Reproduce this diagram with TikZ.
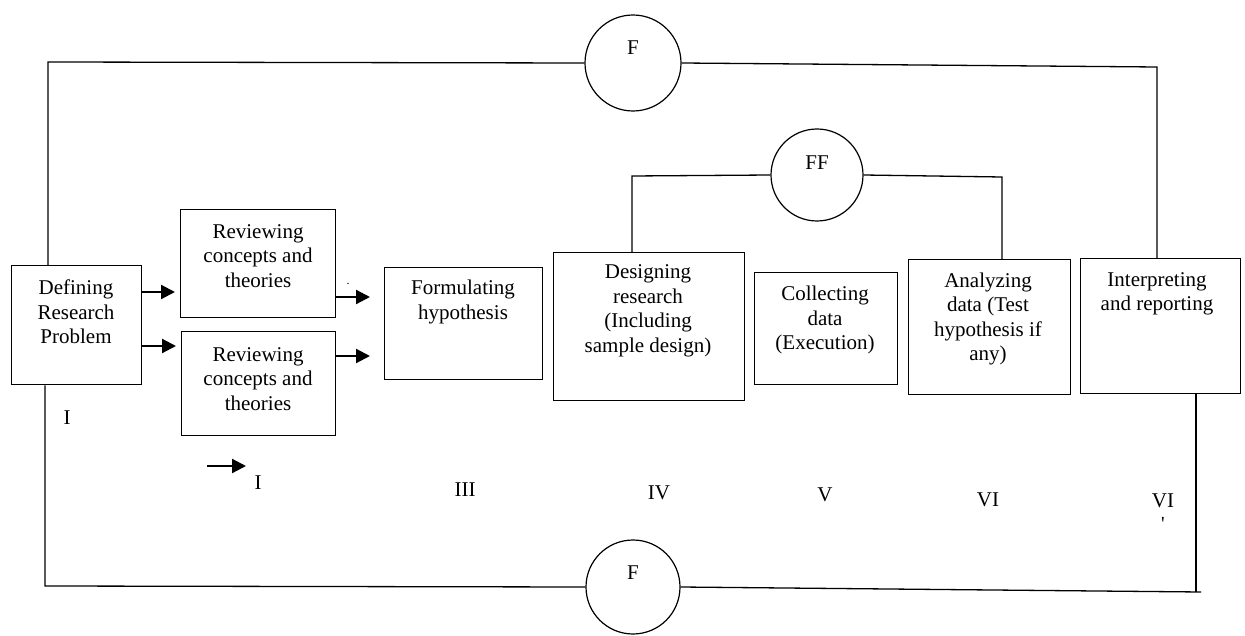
\documentclass[tikz,border=0pt]{standalone}
\usepackage{fontspec}
\setmainfont{Liberation Serif}
\usetikzlibrary{arrows.meta}
\tikzset{
  box/.style={draw, line width=1.3pt, inner sep=0pt, anchor=north west},
  txt/.style={align=center, font=\fontsize{21}{24.5}\selectfont, inner sep=0pt},
  num/.style={font=\fontsize{21}{24}\selectfont, inner sep=0pt},
  ring/.style={draw, circle, line width=1.2pt, inner sep=0pt},
  wire/.style={line width=1.3pt},
  arr/.style={line width=2.2pt, -{Triangle[length=14pt,width=14pt]}}
}
\begin{document}
\begin{tikzpicture}[x=1pt,y=-1pt]
\useasboundingbox (0,0) rectangle (1245,636);
% boxes
\node[box, minimum width=130pt, minimum height=119pt] (def) at (11,265) {};
\node[box, minimum width=155pt, minimum height=108pt] (rev1) at (180,209) {};
\node[box, minimum width=154pt, minimum height=104pt] (rev2) at (181,331) {};
\node[box, minimum width=158pt, minimum height=112pt] (form) at (384,267) {};
\node[box, minimum width=191pt, minimum height=148pt] (des) at (553,252) {};
\node[box, minimum width=143pt, minimum height=112pt] (col) at (754,272) {};
\node[box, minimum width=162pt, minimum height=135pt] (ana) at (908,259) {};
\node[box, minimum width=160pt, minimum height=135pt] (int) at (1080,258) {};
% box texts
\node[txt] (defT) at (76,312) {Defining\\Research\\Problem};
\node[txt] (rev1T) at (258,256) {Reviewing\\concepts and\\theories};
\node[txt] (rev2T) at (258,379) {Reviewing\\concepts and\\theories};
\node[txt] (formT) at (463,302) {Formulating\\hypothesis};
\node[txt] (desT) at (648,311) {Designing\\research\\(Including\\sample design)};
\node[txt] (colT) at (825,320) {Collecting\\data\\(Execution)};
\node[txt] (anaT) at (988,319) {Analyzing\\data (Test\\hypothesis if\\any)};
\node[txt] (intT) at (1157,294) {Interpreting\\and reporting};
% circles
\node[ring, minimum size=96pt] (Ft) at (633,63) {};
\node[num] (FtT) at (633,48) {F};
\node[ring, minimum size=92pt] (FF) at (817,175) {};
\node[num] (FFT) at (817,163) {FF};
\node[ring, minimum size=94pt] (Fb) at (633,587) {};
\node[num] (FbT) at (633,573) {F};
% loop coordinates
\coordinate (tl) at (48,62);
\coordinate (tr) at (1157,67);
\coordinate (bl) at (45,586);
\coordinate (br) at (1196,592);
\coordinate (bre) at (1201,592);
\coordinate (dl) at (632,176);
\coordinate (dr) at (1002,177);
% outer loop top
\draw[wire] (def.north -| tl) -- (tl) -- (Ft.west);
\draw[wire] (Ft.east) -- (tr) -- (int.north -| tr);
% outer loop bottom
\draw[wire] (def.south -| bl) -- (bl) -- (Fb.west);
\draw[wire] (Fb.east) -- (bre);
\draw[wire] (int.south -| br) -- (br);
% inner loop
\draw[wire] (des.north -| dl) -- (dl) -- (FF.west);
\draw[wire] (FF.east) -- (dr) -- (ana.north -| dr);
% arrows
\draw[arr, shorten >=5pt] (def.east |- 0,292) -- (rev1.west |- 0,292);
\draw[arr, shorten >=5pt] (def.east |- 0,346) -- (rev2.west |- 0,346);
\draw[arr, shorten >=14pt] (rev1.east |- 0,297) -- (form.west |- 0,297);
\draw[arr, shorten >=14pt] (rev2.east |- 0,356) -- (form.west |- 0,356);
\coordinate (sa) at (207,466);
\coordinate (sb) at (246,466);
\draw[arr] (sa) -- (sb);
% labels
\node[font=\fontsize{12}{12}\selectfont, inner sep=0pt] (dot) at (348,284) {.};
\node[num] (l1) at (67,418) {I};
\node[num] (l2) at (258,483) {I};
\node[num] (l3) at (465,490) {III};
\node[num] (l4) at (659,493) {IV};
\node[num] (l5) at (825,495) {V};
\node[num] (l6) at (988,500) {VI};
\node[num] (l7) at (1163,501) {VI};
\node[num, font=\fontsize{20}{20}\selectfont] (l7b) at (1163,524) {\textquotesingle};
\end{tikzpicture}
\end{document}
